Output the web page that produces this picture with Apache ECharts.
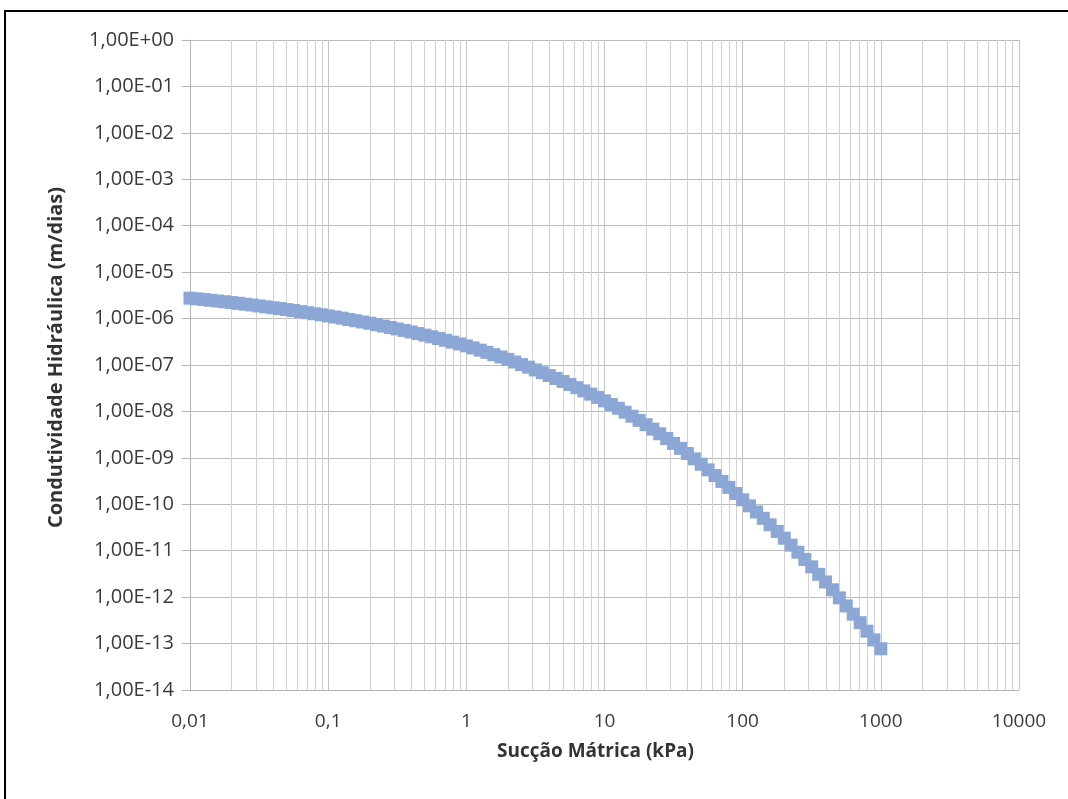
<!DOCTYPE html>
<html>
<head>
<meta charset="utf-8">
<script src="https://cdn.jsdelivr.net/npm/echarts@6/dist/echarts.min.js"></script>
<style>
  html, body { margin: 0; padding: 0; background: #fff; }
  #frame { position: absolute; left: 4px; top: 10px; width: 1200px; height: 900px;
           border-left: 2px solid #000; border-top: 2px solid #000; }
  #chart { position: absolute; left: 0; top: 0; width: 1068px; height: 799px; }
</style>
</head>
<body>
<div id="frame"></div>
<div id="chart"></div>
<script>
// Suction (kPa)
const suction = [
  0.01, 0.0112, 0.0126, 0.0141, 0.0158, 0.0178, 0.02, 0.0224, 0.0251, 0.0282,
  0.0316, 0.0355, 0.0398, 0.0447, 0.0501, 0.0562, 0.0631, 0.0708, 0.0794, 0.0891,
  0.1, 0.112, 0.126, 0.141, 0.158, 0.178, 0.2, 0.224, 0.251, 0.282,
  0.316, 0.355, 0.398, 0.447, 0.501, 0.562, 0.631, 0.708, 0.794, 0.891,
  1, 1.12, 1.26, 1.41, 1.58, 1.78, 2, 2.24, 2.51, 2.82,
  3.16, 3.55, 3.98, 4.47, 5.01, 5.62, 6.31, 7.08, 7.94, 8.91,
  10, 11.2, 12.6, 14.1, 15.8, 17.8, 20, 22.4, 25.1, 28.2,
  31.6, 35.5, 39.8, 44.7, 50.1, 56.2, 63.1, 70.8, 79.4, 89.1,
  100, 112, 126, 141, 158, 178, 200, 224, 251, 282,
  316, 355, 398, 447, 501, 562, 631, 708, 794, 891,
  1000
];
// Hydraulic conductivity (m/dias)
const conductivity = [
  2.75e-6, 2.66e-6, 2.57e-6, 2.48e-6, 2.39e-6, 2.30e-6, 2.21e-6, 2.13e-6, 2.04e-6, 1.96e-6,
  1.87e-6, 1.79e-6, 1.71e-6, 1.64e-6, 1.56e-6, 1.49e-6, 1.41e-6, 1.34e-6, 1.27e-6, 1.21e-6,
  1.14e-6, 1.08e-6, 1.02e-6, 9.57e-7, 8.99e-7, 8.43e-7, 7.91e-7, 7.40e-7, 6.90e-7, 6.43e-7,
  5.98e-7, 5.56e-7, 5.15e-7, 4.76e-7, 4.40e-7, 4.05e-7, 3.72e-7, 3.40e-7, 3.11e-7, 2.84e-7,
  2.58e-7, 2.33e-7, 2.09e-7, 1.87e-7, 1.67e-7, 1.49e-7, 1.32e-7, 1.16e-7, 1.02e-7, 8.97e-8,
  7.83e-8, 6.82e-8, 5.93e-8, 5.13e-8, 4.42e-8, 3.79e-8, 3.25e-8, 2.77e-8, 2.36e-8, 2.00e-8,
  1.69e-8, 1.41e-8, 1.17e-8, 9.64e-9, 7.89e-9, 6.41e-9, 5.18e-9, 4.15e-9, 3.30e-9, 2.61e-9,
  2.05e-9, 1.60e-9, 1.24e-9, 9.53e-10, 7.28e-10, 5.52e-10, 4.16e-10, 3.11e-10, 2.31e-10, 1.71e-10,
  1.25e-10, 9.27e-11, 6.82e-11, 4.99e-11, 3.61e-11, 2.60e-11, 1.86e-11, 1.32e-11, 9.29e-12, 6.49e-12,
  4.50e-12, 3.10e-12, 2.12e-12, 1.44e-12, 9.66e-13, 6.46e-13, 4.29e-13, 2.82e-13, 1.85e-13, 1.20e-13,
  7.73e-14
];
// Tick labels
const xTickValues = [0.01, 0.1, 1, 10, 100, 1000, 10000];
const xTickLabels = ['0,01', '0,1', '1', '10', '100', '1000', '10000'];
const yTickLabels = ['1,00E-14','1,00E-13','1,00E-12','1,00E-11','1,00E-10','1,00E-09','1,00E-08',
  '1,00E-07','1,00E-06','1,00E-05','1,00E-04','1,00E-03','1,00E-02','1,00E-01','1,00E+00'];

const xTitle = 'Sucção Mátrica (kPa)';
const yTitle = 'Condutividade Hidráulica (m/dias)';

// minor vertical gridlines at 2..9 of each decade
const minorX = [];
for (let d = 0; d < xTickValues.length - 1; d++) {
  for (let m = 2; m <= 9; m++) minorX.push({ xAxis: xTickValues[d] * m });
}

const FONT = 'Open Sans';
const chart = echarts.init(document.getElementById('chart'), null, { renderer: 'canvas' });
chart.setOption({
  backgroundColor: 'transparent',
  animation: false,
  grid: { left: 190, right: 49, top: 40, bottom: 109, containLabel: false },
  xAxis: {
    type: 'log', logBase: 10, min: 0.01, max: 10000,
    interval: 1,
    name: xTitle, nameLocation: 'middle', nameGap: 52,
    nameTextStyle: { fontFamily: FONT, fontWeight: 'bold', fontSize: 19, color: '#333', padding: [0, 18, 0, 0] },
    axisLine: { show: true, lineStyle: { color: '#b4b4b4', width: 1 } },
    axisTick: { show: false },
    axisLabel: {
      margin: 22, fontFamily: FONT, fontSize: 19, color: '#3a3a3a',
      formatter: v => {
        const i = xTickValues.findIndex(t => Math.abs(Math.log10(t) - Math.log10(v)) < 1e-6);
        return i >= 0 ? xTickLabels[i] : '';
      }
    },
    splitLine: { show: true, lineStyle: { color: '#c4c4c4', width: 1 } },
    minorTick: { show: false },
    minorSplitLine: { show: false }
  },
  yAxis: {
    type: 'log', logBase: 10, min: 1e-14, max: 1,
    interval: 1,
    name: yTitle, nameLocation: 'middle', nameGap: 124,
    nameTextStyle: { fontFamily: FONT, fontWeight: 'bold', fontSize: 20, color: '#333', padding: [0, 0, 0, 15] },
    axisLine: { show: true, lineStyle: { color: '#b4b4b4', width: 1 } },
    axisTick: { show: true, length: 8, lineStyle: { color: '#b4b4b4' } },
    axisLabel: {
      margin: 16, fontFamily: FONT, fontSize: 20, color: '#3a3a3a',
      formatter: v => {
        const e = Math.round(Math.log10(v));
        return yTickLabels[e + 14] || '';
      }
    },
    splitLine: { show: true, lineStyle: { color: '#bcbcbc', width: 1 } }
  },
  series: [{
    type: 'scatter',
    data: suction.map((x, i) => [x, conductivity[i]]),
    symbol: 'rect',
    symbolSize: 13,
    itemStyle: { color: '#8ca7d6', opacity: 1 },
    markLine: {
      silent: true, symbol: ['none', 'none'], animation: false,
      label: { show: false },
      lineStyle: { type: 'solid', color: '#d2d2d2', width: 1 },
      data: minorX
    },
    z: 5
  }]
});
</script>
</body>
</html>
